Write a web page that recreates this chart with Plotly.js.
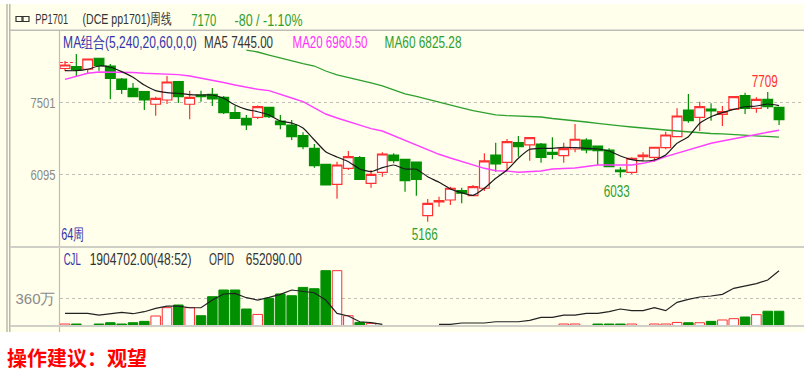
<!DOCTYPE html>
<html><head><meta charset="utf-8">
<script src="https://cdn.plot.ly/plotly-3.0.1.min.js"></script>
<style>html,body{margin:0;padding:0;background:#fff}#c{width:811px;height:378px}</style></head>
<body><div id="c"></div>
<script>
const opens =[8172,8208,8157,8373,8221,7966,7784,7717,7470,7554,7913,7470,7652,7666,7607,7305,7195,7214,7411,7142,7063,6853,6606,6292,5899,6213,6421,5919,6135,6474,6390,6337,5283,5552,5591,5774,5675,5821,6474,6331,6716,6671,6690,6527,6461,6592,6769,6651,6572,6180,6135,6441,6429,6618,6834,7358,7214,7377,7273,7371,7638,7391,7568,7411];
const highs =[8320,8457,8359,8378,8261,7986,7888,7731,7619,8025,7927,7737,7737,7790,7633,7436,7260,7446,7417,7260,7161,6920,6690,6298,6343,6553,6455,6180,6527,6508,6396,6347,5611,5656,5852,5832,5885,6508,6716,6788,6847,6828,6710,6822,6716,7083,6802,6661,6606,6233,6429,6527,6631,6932,7391,7672,7521,7489,7436,7623,7697,7607,7709,7417];
const lows  =[8123,8011,8084,8129,7568,7672,7619,7358,7246,7475,7495,7175,7521,7436,7279,7181,6965,7181,7201,6979,6769,6586,6225,5876,5616,6180,5984,5832,6048,6311,5754,5675,5166,5459,5493,5526,5670,5768,6147,6180,6441,6362,6323,6390,6323,6527,6508,6278,6239,6033,6101,6362,6343,6586,6828,7108,6945,7148,7044,7358,7279,7305,7377,7063];
const closes=[8241,8143,8359,8227,7980,7764,7619,7554,7587,7907,7619,7607,7619,7574,7305,7195,7063,7422,7226,7069,6834,6637,6264,5885,6278,6441,5997,6095,6494,6362,5970,5997,5526,5581,5821,5723,5852,6357,6298,6735,6637,6814,6429,6488,6598,6783,6572,6559,6245,6147,6410,6474,6626,6867,7240,7148,7422,7338,7324,7619,7391,7568,7422,7170];
const ma5 =[8129,8129,8157,8221,8196,8110,8000,7848,7737,7697,7686,7658,7652,7652,7587,7456,7371,7324,7260,7142,7103,7004,6769,6539,6435,6343,6200,6147,6225,6278,6200,6194,6048,5938,5807,5734,5683,5821,6017,6180,6410,6586,6606,6606,6626,6618,6606,6592,6553,6455,6382,6357,6376,6474,6704,6834,7097,7226,7305,7371,7422,7436,7475,7445];
const ma20=[7960,8025,8078,8104,8104,8104,8094,8078,8070,8064,8051,8025,7986,7947,7898,7848,7799,7764,7737,7658,7593,7521,7397,7279,7201,7136,7063,6991,6945,6853,6769,6684,6586,6488,6415,6343,6278,6213,6166,6160,6135,6154,6160,6200,6213,6219,6249,6278,6278,6278,6278,6311,6362,6441,6508,6572,6637,6704,6749,6788,6834,6867,6920,6960];
const ma60=[null,null,null,null,null,null,null,null,null,null,null,null,null,null,null,null,8535,8496,8437,8378,8320,8270,8221,8123,8045,7996,7947,7888,7829,7750,7672,7623,7564,7505,7456,7397,7344,7299,7260,7246,7240,7234,7220,7191,7171,7152,7122,7093,7063,7044,7024,7000,6985,6965,6945,6926,6912,6896,6887,6873,6861,6847,6832,6825];
const vols=[22,22,0,22,39,22,39,57,127,237,272,237,131,381,469,469,219,148,359,417,394,503,486,723,723,131,43,30,0,0,0,0,0,0,0,0,0,0,0,0,0,0,0,0,22,22,0,22,22,22,22,0,22,22,43,39,39,57,75,92,114,145,190,190];
const opid=[14.6,14.6,14.6,12.6,14.2,15.8,14.2,16.6,20.6,23.3,23.3,21.3,21.3,30.4,37.6,38.3,33.2,30.4,33.6,37.2,42.3,40.3,39.1,30.4,14.6,11.5,4.7,3.6,1.6,null,null,null,null,1.6,1.6,3.2,3.2,3.2,4.7,4.7,4.7,6.3,9.9,9.9,12.6,12.6,14.6,14.6,16.6,19.8,17.8,17.8,21.3,17.8,27.7,31.2,34,35.2,37.2,44.3,47,49.8,54.2,65.2];
const priceTicks=[6095,7501], priceLabels=['6095','7501'];
const volTicks=[360], volLabels=['360万'];
const idx=opens.map((_,i)=>i);
const UP='#FF3030', DOWN='#009000', BG='#FFFFEC', RULE='#CFCFC8';
const W=811,H=378;
const px=x=>x/W, py=y=>1-y/H;

const traces=[
 {type:'candlestick',x:idx,open:opens,high:highs,low:lows,close:closes,xaxis:'x',yaxis:'y',whiskerwidth:0,
  increasing:{line:{color:UP,width:1.2},fillcolor:'#FFFFFF'},decreasing:{line:{color:DOWN,width:1.2},fillcolor:DOWN}},
 {type:'scatter',mode:'lines',x:[-0.45,0.9],y:[8290,8290],line:{color:UP,width:1,dash:'3px,2px'},xaxis:'x',yaxis:'y'},
 {type:'scatter',mode:'lines',x:idx,y:ma60,line:{color:'#2EA02E',width:1.3},xaxis:'x',yaxis:'y'},
 {type:'scatter',mode:'lines',x:idx,y:ma20,line:{color:'#FF40FF',width:1.4},xaxis:'x',yaxis:'y'},
 {type:'scatter',mode:'lines',x:idx,y:ma5,line:{color:'#1A1A1A',width:1.2,shape:'spline',smoothing:0.5},xaxis:'x',yaxis:'y'},
 {type:'bar',x:idx,y:vols,width:0.84,xaxis:'x2',yaxis:'y2',
  marker:{color:idx.map(i=>closes[i]>=opens[i]?'#FFFFFF':DOWN),line:{width:1,color:idx.map(i=>vols[i]===0?'rgba(0,0,0,0)':(closes[i]>=opens[i]?UP:DOWN))}}},
 {type:'scatter',mode:'lines',x:idx,y:opid,connectgaps:false,line:{color:'#222',width:1.2},xaxis:'x2',yaxis:'y3'}
];

const face='"Liberation Sans",sans-serif';
// label text, left x, right x, middle y, colour, size
const labels=[
 ['PP1701',35,68,19,'#333',15],
 ['(DCE pp1701)周线',82,171,19,'#333',15],
 ['7170',191,216,20,'#2E9E2E',16],
 ['-80 / -1.10%',234,302,20,'#2E9E2E',16],
 ['MA组合(5,240,20,60,0,0)',63,197,42,'#3333AA',16],
 ['MA5 7445.00',204,273,42,'#333',16],
 ['MA20 6960.50',292,367,42,'#FF30FF',16],
 ['MA60 6825.28',385,462,42,'#2E9E2E',16],
 ['7709',752,778,81,'#FF3030',16],
 ['5166',412,438,234,'#2E9E2E',16],
 ['6033',604,630,191,'#2E9E2E',16],
 ['64周',61,84,234,'#3333AA',16],
 ['CJL',64,81,259,'#3333AA',16],
 ['1904702.00(48:52)',89,191,259,'#333',16],
 ['OPID',209,234,259,'#333',16],
 ['652090.00',246,302,259,'#333',16]
];
const annotations=labels.map(l=>({text:l[0],xref:'paper',yref:'paper',x:px((l[1]+l[2])/2),y:py(l[3]),xanchor:'center',yanchor:'middle',showarrow:false,
   borderpad:0,font:{family:face,size:l[5],color:l[4]}}));
annotations.push({text:'<b>操作建议：观望</b>',xref:'paper',yref:'paper',x:px(5),y:py(357),xanchor:'left',yanchor:'middle',showarrow:false,
  font:{family:'"Noto Sans CJK SC",sans-serif',size:20,color:'#FF0000'}});
function rectP(x0,y0,x1,y1,o){return Object.assign({type:'rect',xref:'paper',yref:'paper',x0:px(x0),x1:px(x1),y0:py(y0),y1:py(y1),line:{width:0}},o);}
function lineP(x0,y0,x1,y1,c,w){return {type:'line',xref:'paper',yref:'paper',x0:px(x0),x1:px(x1),y0:py(y0),y1:py(y1),line:{color:c,width:w},layer:'above'};}
const shapes=[
 rectP(0,4,804,332,{fillcolor:BG,layer:'below'}),
 lineP(7,4,7,332,'#A8A8A0',1.2),
 lineP(9.8,4,9.8,332,'#A8A8A0',1.2),
 lineP(10,30.3,804,30.3,'#BDBDB8',1.4),
 lineP(59.5,30,59.5,332,'#BDBDB8',1.2),
 lineP(10,247,804,247,RULE,2),
 lineP(10,326,804,326,RULE,2),
 rectP(16,16.5,23,21.5,{line:{color:'#333',width:1.2},fillcolor:'rgba(0,0,0,0)',layer:'above'}),
 rectP(22,16.5,29,21.5,{line:{color:'#333',width:1.2},fillcolor:'rgba(0,0,0,0)',layer:'above'})
];
const xBase={range:[-0.485,65.2],showgrid:false,showticklabels:false,ticks:'',zeroline:false,showline:false,fixedrange:true};
const tickFont={family:face,size:15,color:'#8A8A8A'};
const layout={
 width:W,height:H,margin:{l:0,r:0,t:0,b:0,pad:0},paper_bgcolor:'rgba(0,0,0,0)',plot_bgcolor:'rgba(0,0,0,0)',showlegend:false,barmode:'overlay',
 boxgap:0.14,boxgroupgap:0,hovermode:false,
 xaxis:Object.assign({domain:[px(59.5),px(804)],anchor:'y',rangeslider:{visible:false}},xBase),
 xaxis2:Object.assign({domain:[px(59.5),px(804)],anchor:'y2'},xBase),
 yaxis:{domain:[py(246.7),py(30)],range:[4674,8928],tickmode:'array',tickvals:priceTicks,ticktext:priceLabels,tickfont:tickFont,ticks:'',
   showgrid:true,gridcolor:'#BEBEB6',griddash:'dot',gridwidth:1,zeroline:false,showline:false,anchor:'x',automargin:false,ticklabelstandoff:3},
 yaxis2:{domain:[py(325.7),py(247)],range:[0,1034],tickmode:'array',tickvals:volTicks,ticktext:volLabels,tickfont:tickFont,ticks:'',
   showgrid:true,gridcolor:'#BEBEB6',griddash:'dot',gridwidth:1,zeroline:false,showline:false,anchor:'x2',automargin:false,ticklabelstandoff:3},
 yaxis3:{domain:[py(325.7),py(247)],range:[0,93.3],overlaying:'y2',showgrid:false,showticklabels:false,ticks:'',zeroline:false,showline:false,anchor:'x2'},
 annotations:annotations,shapes:shapes
};
Plotly.newPlot('c',traces,layout,{displayModeBar:false,staticPlot:true}).then(()=>{
  // The reference uses a condensed bitmap face: squeeze real text horizontally to its measured widths.
  document.querySelectorAll('.annotation-text').forEach(t=>{
    const l=labels.find(r=>r[0]===t.textContent);
    if(!l) return;
    const s=(l[2]-l[1])/t.getComputedTextLength();
    const cx=parseFloat(t.getAttribute('x'))||0;
    t.setAttribute('transform','translate('+cx+',0) scale('+s+',1) translate('+(-cx)+',0)');
  });
  document.querySelectorAll('.ytick text').forEach(t=>{
    t.setAttribute('textLength',t.textContent.length>4?30:25);t.setAttribute('lengthAdjust','spacingAndGlyphs');
  });
});
</script></body></html>
